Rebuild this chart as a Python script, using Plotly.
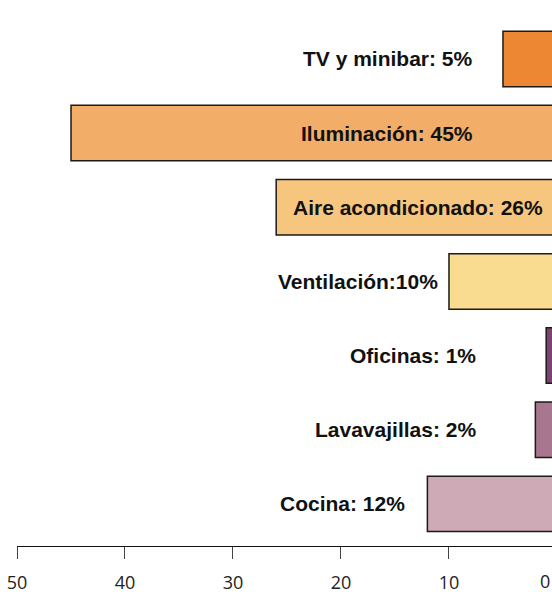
import plotly.graph_objects as go

# Data (bottom to top)
categories = ["Cocina", "Lavavajillas", "Oficinas", "Ventilación",
              "Aire acondicionado", "Iluminación", "TV y minibar"]
values = [12, 2, 1, 10, 26, 45, 5]
labels = ["Cocina: 12%", "Lavavajillas: 2%", "Oficinas: 1%", "Ventilación:10%",
          "Aire acondicionado: 26%", "Iluminación: 45%", "TV y minibar: 5%"]
colors = ["#CEA9B6", "#A8778F", "#7E4270", "#F9DC8F",
          "#F6C67E", "#F2AE68", "#EE8733"]
# x (data units) where each label's right edge sits
label_right = [13.9, 7.3, 7.3, 10.8, 1.1, 7.6, 7.6]
tick_vals = [50, 40, 30, 20, 10]
tick_text = ["50", "40", "30", "20", "10"]
edge_tick_text = "0"

fig = go.Figure()
fig.add_trace(go.Bar(
    y=categories, x=values, orientation="h",
    marker=dict(color=colors, line=dict(color="#1a1a1a", width=1.5)),
    hoverinfo="skip",
))

for cat, lab, xr in zip(categories, labels, label_right):
    fig.add_annotation(
        x=xr, y=cat, xref="x", yref="y", text=lab, showarrow=False,
        xanchor="right", yanchor="middle",
        font=dict(family="Liberation Sans, Arial, sans-serif", size=21,
                  color="#111111", weight="bold"),
    )

fig.add_annotation(
    x=1.0, y=0, xref="paper", yref="paper", text=edge_tick_text, showarrow=False,
    xanchor="right", yanchor="middle", yshift=-35, height=16, valign="middle",
    font=dict(family="Open Sans, sans-serif", size=18, color="#222222"),
)

fig.update_layout(
    width=552, height=594,
    margin=dict(l=17, r=0, t=0, b=43),
    paper_bgcolor="white", plot_bgcolor="white",
    showlegend=False, bargap=0.252,
    xaxis=dict(
        range=[50, 0.46], tickvals=tick_vals, ticktext=tick_text,
        showgrid=False, zeroline=False, showline=True, linecolor="#111111", linewidth=1,
        ticks="outside", ticklen=12, tickcolor="#444444", tickwidth=1,
        tickfont=dict(family="Open Sans, sans-serif", size=18, color="#222222"),
        ticklabelstandoff=8,
    ),
    yaxis=dict(
        categoryorder="array", categoryarray=categories,
        range=[-0.568, 6.795], showticklabels=False, showgrid=False,
        zeroline=False, showline=False, ticks="",
    ),
)

fig.write_html(
    "out.html",
    config={"displayModeBar": False},
    post_script="document.body.style.margin='0';document.body.style.overflow='hidden';",
)
